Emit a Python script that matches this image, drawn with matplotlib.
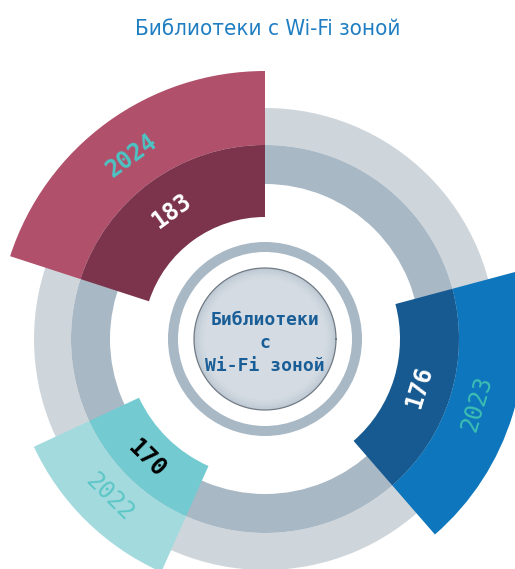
import numpy as np
import matplotlib
matplotlib.use('Agg')
import matplotlib.pyplot as plt

# data
years = ['2024', '2023', '2022']
values = [183, 176, 170]

# layout of the sectors (degrees / pixel radii)
start_deg = [90, -49, 205]
end_deg = [162, 15, 246]
r_inner = [122, 135, 139]
r_outer = [268, 259, 255]
r_split = 194
r_value_lbl = [158, 161, 168]
r_year_lbl = [227, 222, 222]

outer_colors = ['#B0506B', '#0E76BC', '#A3DADE']
inner_colors = ['#7B344C', '#165A91', '#73CBD1']
value_colors = ['white', 'white', 'black']
year_colors = ['#4DC3C3', '#3DBFB3', '#5CC6C6']

W, H = 515, 569
cx, cy = 265, 339
R = 280

fig = plt.figure(figsize=(W / 100, H / 100), dpi=100)
ax = fig.add_axes([(cx - R) / W, (H - cy - R) / H, 2 * R / W, 2 * R / H],
                  projection='polar')
ax.set_ylim(0, R)
ax.axis('off')

full = 2 * np.pi
# background rings
ax.bar(0, 231 - 194, width=full, bottom=194, color='#CFD6DB', lw=0)
ax.bar(0, 194 - 155, width=full, bottom=155, color='#A9B8C5', lw=0)
ax.bar(0, 97 - 87, width=full, bottom=87, color='#A9B8C5', lw=0)

# central disc with soft shading
shades = ['#BFCAD4', '#C6D0D9', '#CCD5DD', '#D1D9E0', '#D4DBE2']
for k, c in enumerate(shades):
    ax.bar(0, 71 - k * 2.5, width=full, bottom=0, color=c, lw=0)
tt = np.linspace(0, full, 300)
ax.plot(tt, np.full_like(tt, 71), color='#6F7A84', lw=0.9)

# sectors
for i in range(len(years)):
    a0 = np.radians(start_deg[i])
    a1 = np.radians(end_deg[i])
    mid = (a0 + a1) / 2
    ax.bar(mid, r_split - r_inner[i], width=a1 - a0, bottom=r_inner[i],
           color=inner_colors[i], lw=0)
    ax.bar(mid, r_outer[i] - r_split, width=a1 - a0, bottom=r_split,
           color=outer_colors[i], lw=0)
    rot = np.degrees(mid) - 90
    if rot < -90:
        rot += 180
    if rot > 90:
        rot -= 180
    ax.text(mid, r_value_lbl[i], str(values[i]),
            rotation=rot, rotation_mode='anchor', ha='center', va='center',
            fontsize=17, fontweight='bold', family='DejaVu Sans Mono',
            color=value_colors[i])
    ax.text(mid, r_year_lbl[i], years[i],
            rotation=rot, rotation_mode='anchor', ha='center', va='center',
            fontsize=17, fontweight='bold' if i == 0 else 'normal',
            family='DejaVu Sans Mono', color=year_colors[i])

fig.text(cx / W, 1 - 343 / H, 'Библиотеки\nс\nWi-Fi зоной', ha='center',
         va='center', ma='center', fontsize=13, fontweight='bold',
         family='DejaVu Sans Mono', color='#1A5E97', linespacing=1.35)

fig.text(268 / W, 1 - 29 / H, 'Библиотеки с Wi-Fi зоной', ha='center',
         va='center', fontsize=16, color='#1F7EC2', fontstretch='condensed',
         family=['DejaVu Sans'])

fig.savefig('out.png', dpi=100)
